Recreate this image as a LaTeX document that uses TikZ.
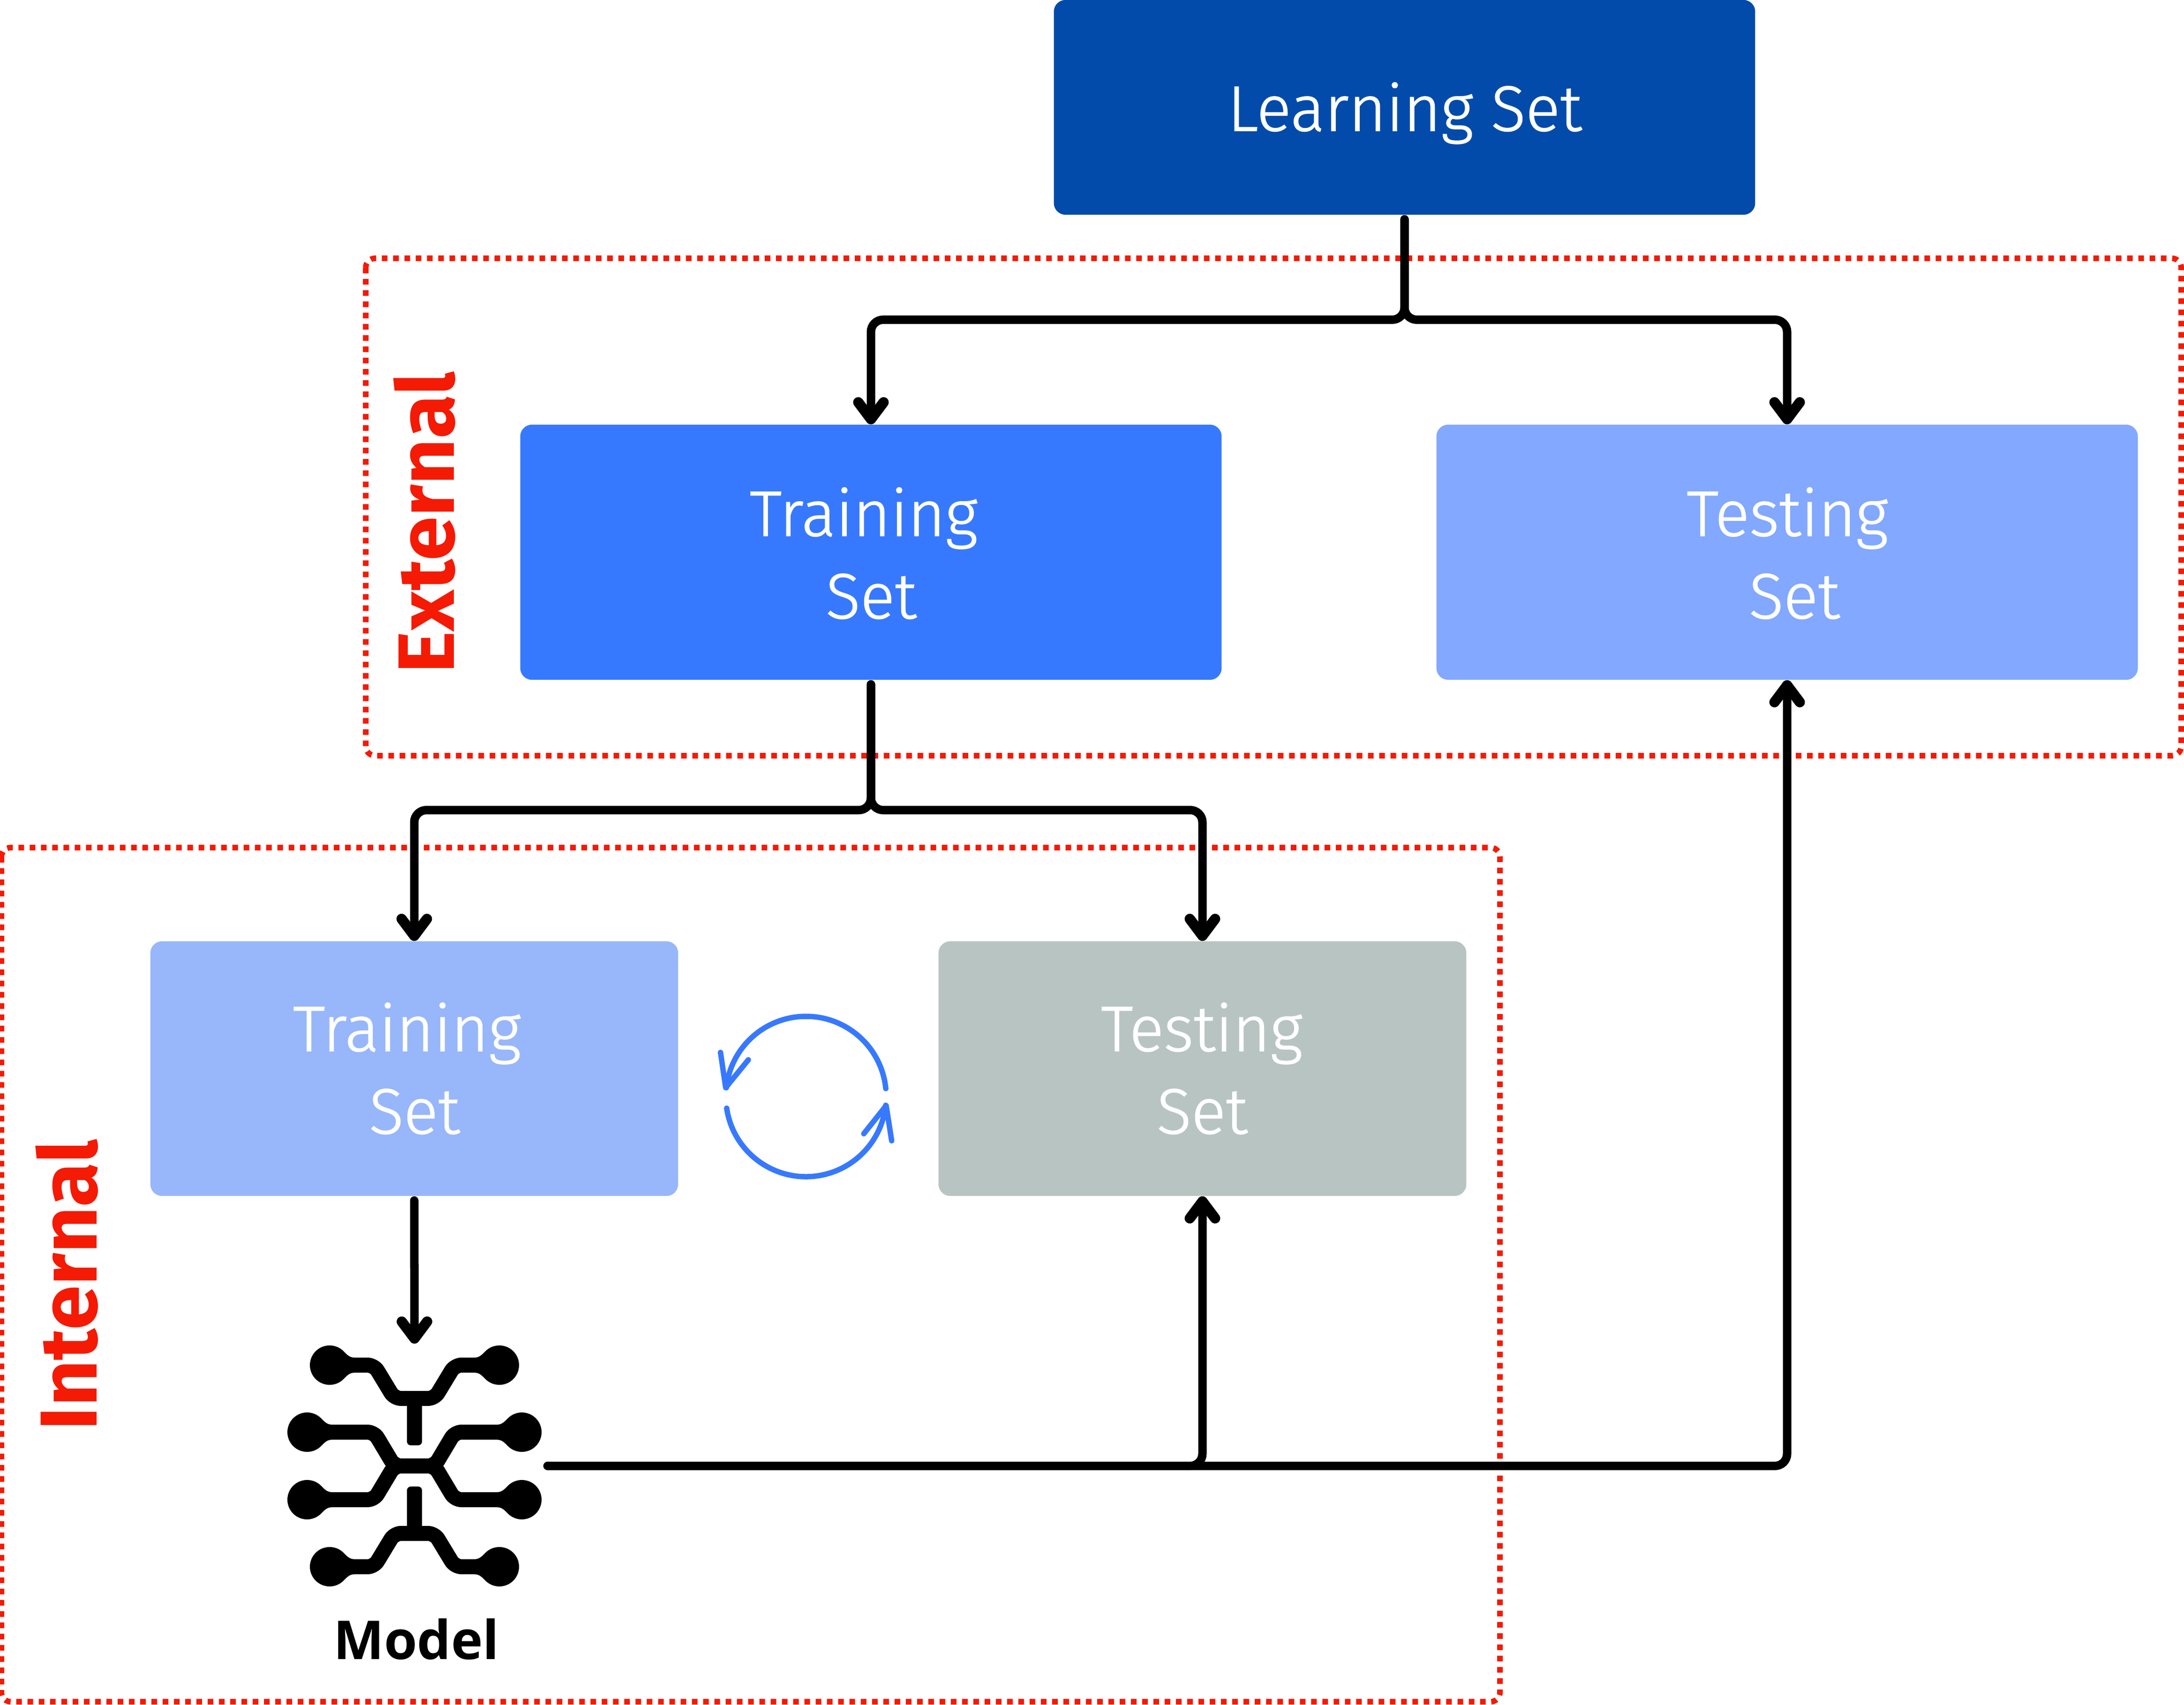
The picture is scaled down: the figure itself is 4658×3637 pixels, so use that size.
\documentclass[tikz,border=0pt]{standalone}
\usepackage{fontspec}
\setmainfont{Fira Sans Light}[BoldFont={Fira Sans Bold}]
\newfontfamily\bodyfont{Fira Sans Light}[FakeBold=1.2]
\newfontfamily\modelfont{Open Sans Bold}
\usetikzlibrary{arrows.meta,calc}
\definecolor{cLearn}{HTML}{034BAB}
\definecolor{cTrain}{HTML}{3779FE}
\definecolor{cTest}{HTML}{82A8FF}
\definecolor{cITrain}{HTML}{98B7FA}
\definecolor{cITest}{HTML}{B8C4C2}
\definecolor{cRed}{HTML}{F41A04}
\tikzset{
  box/.style={rectangle,rounded corners=2.5mm,draw=none,inner sep=0pt},
  boxtext/.style={text=white,anchor=base,inner sep=0pt,font=\fontsize{38.9}{38.9}\bodyfont},
  conn/.style={line width=1.8mm,line cap=round,rounded corners=2.6mm,black,shorten <=0.9mm},
  arr/.style={conn,-{Straight Barb[length=3.6mm,width=5.4mm,line width=2.2mm,round]}},
  region/.style={draw=cRed,line width=1.2mm,dash pattern=on 1.2mm off 1.2mm,rounded corners=2mm},
  regionlabel/.style={text=cRed,rotate=90,anchor=base,inner sep=0pt,font=\fontsize{48.5}{48.5}\selectfont\bfseries},
  trace/.style={line width=3.2mm,black,rounded corners=1.4mm},
  stem/.style={fill=black,rounded corners=0.8mm},
  padfill/.style={circle,fill=black,minimum size=8.4mm,inner sep=0pt},
  cyc/.style={line width=1.15mm,draw=cTrain,line cap=round,line join=round},
}
\begin{document}
\begin{tikzpicture}[x=0.01cm,y=-0.01cm]
\useasboundingbox (0,0) rectangle (4658,3637);
% regions
\draw[region] (780,551) rectangle (4652,1612);
\draw[region] (3,1808) rectangle (3199,3630);
% boxes
\node[box,fill=cLearn,minimum width=14.95cm,minimum height=4.58cm] (learn) at (2995.5,229) {};
\node[box,fill=cTrain,minimum width=14.95cm,minimum height=5.44cm] (train) at (1857.5,1178) {};
\node[box,fill=cTest,minimum width=14.95cm,minimum height=5.44cm] (test) at (3811.5,1178) {};
\node[box,fill=cITrain,minimum width=11.25cm,minimum height=5.43cm] (itrain) at (883.5,2279.5) {};
\node[box,fill=cITest,minimum width=11.25cm,minimum height=5.43cm] (itest) at (2564.5,2279.5) {};
% box texts
\node[boxtext] (tlearn) at (2996,279) {Learning Set};
\node[boxtext] (ttrain1) at (1842,1143) {Training};
\node[boxtext] (ttrain2) at (1858,1319) {Set};
\node[boxtext] (ttest1) at (3812,1143) {Testing};
\node[boxtext] (ttest2) at (3827,1319) {Set};
\node[boxtext] (titrain1) at (868,2242) {Training};
\node[boxtext] (titrain2) at (884,2418) {Set};
\node[boxtext] (titest1) at (2563,2242) {Testing};
\node[boxtext] (titest2) at (2564,2418) {Set};
% region labels
\node[regionlabel] (lext) at (968,1115) {External};
\node[regionlabel,font=\fontsize{49}{49}\selectfont\bfseries] (lint) at (206,2741) {Internal};
% model icon
\node[minimum width=5.48cm,minimum height=5.2cm,inner sep=0pt] (model) at (884,3127) {};
\begin{scope}[shift={(884,3127)}]
  \foreach \sx/\sy/\nm in {-1/-1/a,1/-1/b,-1/1/c,1/1/d}{
    \node[padfill] (padA\nm) at ({\sx*181},{\sy*215}) {};
    \node[padfill] (padB\nm) at ({\sx*229},{\sy*72}) {};
    \foreach \cx/\cy in {181/215,229/72}{
      \fill[black] ({\sx*(\cx-30)},{\sy*\cy-\sy*29})
        .. controls ({\sx*(\cx-38)},{\sy*\cy-\sy*22}) and ({\sx*(\cx-42)},{\sy*\cy-\sy*16}) .. ({\sx*(\cx-54)},{\sy*\cy-\sy*16})
        -- ({\sx*(\cx-54)},{\sy*\cy+\sy*16})
        .. controls ({\sx*(\cx-42)},{\sy*\cy+\sy*16}) and ({\sx*(\cx-38)},{\sy*\cy+\sy*22}) .. ({\sx*(\cx-30)},{\sy*\cy+\sy*29}) -- cycle;
    }
  }
  \draw[trace] (-181,-215) -- (-86,-215) -- (-43,-144) -- (43,-144) -- (86,-215) -- (181,-215);
  \draw[trace] (-181,215) -- (-86,215) -- (-43,144) -- (43,144) -- (86,215) -- (181,215);
  \draw[trace] (-229,-72) -- (-86,-72) -- (-43,0) -- (43,0) -- (86,-72) -- (229,-72);
  \draw[trace] (-229,72) -- (-86,72) -- (-43,0) -- (43,0) -- (86,72) -- (229,72);
  \fill[stem] (-16,-150) rectangle (16,-44);
  \fill[stem] (-16,44) rectangle (16,150);
\end{scope}
\node[anchor=base,inner sep=0pt,font=\fontsize{32.5}{32.5}\modelfont] (tmodel) at (888,3539) {Model};
% connectors
\coordinate (j1) at (2995.5,682);
\coordinate (j2) at (1857.5,1728);
\coordinate (j3) at (2564.5,3127);
\draw[arr] (learn.south) -- (j1) -| (train.north);
\draw[arr] (learn.south) -- (j1) -| (test.north);
\draw[arr] (train.south) -- (j2) -| (itrain.north);
\draw[arr] (train.south) -- (j2) -| (itest.north);
\draw[arr] (itrain.south) -- (model.north);
\draw[arr] (model.east) -- (j3) -- (itest.south);
\draw[arr] (model.east) -| (test.south);
% cycle
\coordinate (cyc0) at (1719,2339);
\draw[cyc] (cyc0) ++(-5.7:171) arc[start angle=-5.7,end angle=-173.7,radius=171];
\draw[cyc] (cyc0) ++(171.6:171) arc[start angle=171.6,end angle=6.3,radius=171];
\draw[cyc] (1536.7,2245) -- (1547.7,2320) -- (1596,2260.7);
\draw[cyc] (1901.7,2433.3) -- (1890,2358.3) -- (1842.3,2418.3);
\end{tikzpicture}
\end{document}
